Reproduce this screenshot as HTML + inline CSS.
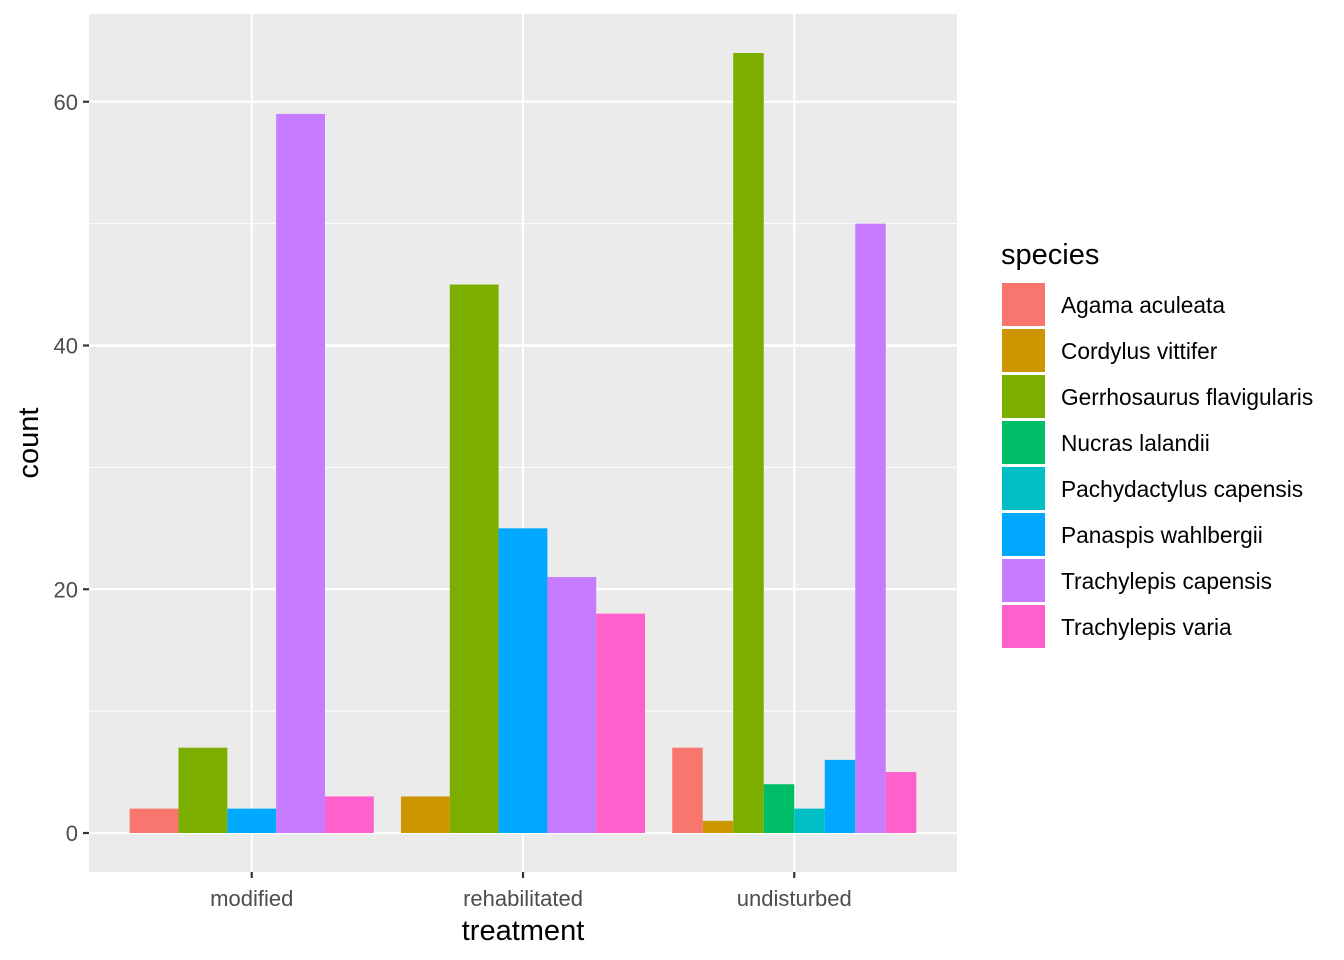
<!DOCTYPE html>
<html><head><meta charset="utf-8">
<style>
html,body{margin:0;padding:0;background:#fff;}
svg{display:block;font-family:"Liberation Sans",Arial,sans-serif;}
</style></head>
<body>
<svg id="chart" width="1344" height="960"></svg>
<script>
const categories = ["modified","rehabilitated","undisturbed"];
const species = ["Agama aculeata","Cordylus vittifer","Gerrhosaurus flavigularis","Nucras lalandii","Pachydactylus capensis","Panaspis wahlbergii","Trachylepis capensis","Trachylepis varia"];
const countsModified = [2,0,7,0,0,2,59,3];
const countsRehabilitated = [0,3,45,0,0,25,21,18];
const countsUndisturbed = [7,1,64,4,2,6,50,5];
const yTicks = [0,20,40,60];
const yMinor = [10,30,50];
const colors = ["#F8766D","#CD9600","#7CAE00","#00BE67","#00BFC4","#00A9FF","#C77CFF","#FF61CC"];

const NS="http://www.w3.org/2000/svg";
const svg=document.getElementById('chart');
const P={l:89,r:957,t:14,b:872};
const yMin=-3.2, yMax=67.2;
function y(v){return P.b-(v-yMin)/(yMax-yMin)*(P.b-P.t);}
const step=(P.r-P.l)/(categories.length+0.2);
function x(i){return P.l+step*(i+0.6);}
function mk(tag,attrs,parent){const e=document.createElementNS(NS,tag);for(const k in attrs)e.setAttribute(k,attrs[k]);(parent||svg).appendChild(e);return e;}

const panel=mk('rect',{x:P.l,y:P.t,width:P.r-P.l,height:P.b-P.t,fill:'#EBEBEB'});


yMinor.forEach(v=>{const l=mk('line',{x1:P.l,x2:P.r,y1:y(v),y2:y(v),stroke:'#fff','stroke-width':1.1});

});
yTicks.forEach(v=>{const l=mk('line',{x1:P.l,x2:P.r,y1:y(v),y2:y(v),stroke:'#fff','stroke-width':2.2});


const t=mk('line',{x1:P.l-6,x2:P.l,y1:y(v),y2:y(v),stroke:'#333','stroke-width':2.2});


const tx=mk('text',{x:P.l-11,y:y(v)+8,'text-anchor':'end','font-size':22,fill:'#4D4D4D'});tx.textContent=v;

});
categories.forEach((c,i)=>{const l=mk('line',{x1:x(i),x2:x(i),y1:P.t,y2:P.b,stroke:'#fff','stroke-width':2.2});


const t=mk('line',{x1:x(i),x2:x(i),y1:P.b,y2:P.b+6,stroke:'#333','stroke-width':2.2});


const tx=mk('text',{x:x(i),y:P.b+34,'text-anchor':'middle','font-size':22,fill:'#4D4D4D'});tx.textContent=c;

});

const all=[countsModified,countsRehabilitated,countsUndisturbed];
all.forEach((arr,i)=>{
  const present=[];arr.forEach((v,j)=>{if(v>0)present.push(j);});
  const gw=step*0.9, bw=gw/present.length, x0=x(i)-gw/2;
  present.forEach((j,k)=>{
    const r=mk('rect',{x:x0+k*bw,y:y(arr[j]),width:bw,height:y(0)-y(arr[j]),fill:colors[j]});
    
    
  });
});

const xt=mk('text',{x:(P.l+P.r)/2,y:940,'text-anchor':'middle','font-size':29,fill:'#000'});xt.textContent='treatment';


const yt=mk('text',{x:0,y:0,'text-anchor':'middle','font-size':29,fill:'#000',transform:'translate(38,'+((P.t+P.b)/2)+') rotate(-90)'});yt.textContent='count';



const lt=mk('text',{x:1001,y:264,'font-size':29,fill:'#000'});lt.textContent='species';


species.forEach((s,j)=>{
  const g=mk('g',{});
  
  
  mk('rect',{x:1002,y:283+j*46,width:43,height:43,fill:colors[j]},g);
  const t=mk('text',{x:1061,y:313+j*46,'font-size':22.7,fill:'#000'},g);t.textContent=s;
});
</script>
</body></html>
